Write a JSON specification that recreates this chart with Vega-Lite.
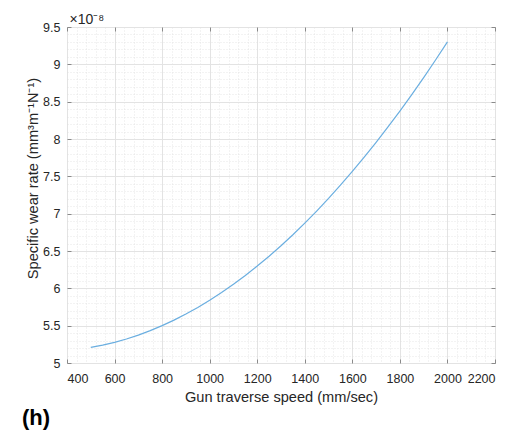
{
  "$schema": "https://vega.github.io/schema/vega-lite/v6.json",
  "width": 428,
  "height": 336,
  "autosize": "none",
  "padding": {"left": 67, "top": 27, "right": 20, "bottom": 70},
  "background": "white",
  "title": {"text": "(h)", "orient": "bottom", "anchor": "start", "dx": -3, "offset": 4, "fontSize": 22, "fontWeight": "bold", "font": "Liberation Sans", "color": "#000000"},
  "config": {
    "view": {"stroke": "#8a8a8a", "strokeWidth": 1},
    "axis": {"labelFont": "Liberation Sans", "titleFont": "Liberation Sans", "labelColor": "#262626", "titleColor": "#262626", "titleFontWeight": "normal"}
  },
  "data": {"values": [
    {"speed": 500, "wear": 5.210},
    {"speed": 550, "wear": 5.240},
    {"speed": 600, "wear": 5.277},
    {"speed": 650, "wear": 5.322},
    {"speed": 700, "wear": 5.374},
    {"speed": 750, "wear": 5.433},
    {"speed": 800, "wear": 5.500},
    {"speed": 850, "wear": 5.574},
    {"speed": 900, "wear": 5.655},
    {"speed": 950, "wear": 5.744},
    {"speed": 1000, "wear": 5.840},
    {"speed": 1050, "wear": 5.944},
    {"speed": 1100, "wear": 6.054},
    {"speed": 1150, "wear": 6.172},
    {"speed": 1200, "wear": 6.298},
    {"speed": 1250, "wear": 6.430},
    {"speed": 1300, "wear": 6.570},
    {"speed": 1350, "wear": 6.718},
    {"speed": 1400, "wear": 6.873},
    {"speed": 1450, "wear": 7.035},
    {"speed": 1500, "wear": 7.204},
    {"speed": 1550, "wear": 7.381},
    {"speed": 1600, "wear": 7.565},
    {"speed": 1650, "wear": 7.756},
    {"speed": 1700, "wear": 7.955},
    {"speed": 1750, "wear": 8.161},
    {"speed": 1800, "wear": 8.374},
    {"speed": 1850, "wear": 8.595},
    {"speed": 1900, "wear": 8.823},
    {"speed": 1950, "wear": 9.058},
    {"speed": 2000, "wear": 9.301}
  ]},
  "resolve": {"axis": {"x": "independent", "y": "independent"}},
  "layer": [
    {
      "mark": {"type": "line", "strokeOpacity": 0},
      "encoding": {
        "x": {"field": "speed", "type": "quantitative", "scale": {"domain": [400, 2200], "nice": false},
          "axis": {"orient": "bottom", "values": [440,480,520,560,640,680,720,760,840,880,920,960,1040,1080,1120,1160,1240,1280,1320,1360,1440,1480,1520,1560,1640,1680,1720,1760,1840,1880,1920,1960,2040,2080,2120,2160], "grid": true, "gridColor": "#dedede", "gridDash": [1, 2], "gridWidth": 0.7, "labels": false, "ticks": false, "domain": false, "title": null}},
        "y": {"field": "wear", "type": "quantitative", "scale": {"domain": [5, 9.5], "nice": false, "zero": false},
          "axis": {"orient": "left", "values": [5.1,5.2,5.3,5.4,5.6,5.7,5.8,5.9,6.1,6.2,6.3,6.4,6.6,6.7,6.8,6.9,7.1,7.2,7.3,7.4,7.6,7.7,7.8,7.9,8.1,8.2,8.3,8.4,8.6,8.7,8.8,8.9,9.1,9.2,9.3,9.4], "grid": true, "gridColor": "#dedede", "gridDash": [1, 2], "gridWidth": 0.7, "labels": false, "ticks": false, "domain": false, "title": null}}
      }
    },
    {
      "mark": {"type": "line", "strokeOpacity": 0},
      "encoding": {
        "x": {"field": "speed", "type": "quantitative", "scale": {"domain": [400, 2200], "nice": false},
          "axis": {"orient": "top", "values": [400,600,800,1000,1200,1400,1600,1800,2000,2200], "grid": false, "labels": false, "ticks": true, "tickSize": -4, "tickColor": "#8a8a8a", "domain": false,
            "title": "×10⁻⁸", "titleAnchor": "start", "titleAlign": "left", "titleX": 2, "titleY": -4, "titleBaseline": "alphabetic", "titleFontSize": 14, "titlePadding": 0}},
        "y": {"field": "wear", "type": "quantitative", "scale": {"domain": [5, 9.5], "nice": false, "zero": false},
          "axis": {"orient": "right", "values": [5,5.5,6,6.5,7,7.5,8,8.5,9,9.5], "grid": false, "labels": false, "ticks": true, "tickSize": -4, "tickColor": "#8a8a8a", "domain": false, "title": null}}
      }
    },
    {
      "mark": {"type": "line", "color": "#6aaee0", "strokeWidth": 1.2},
      "encoding": {
        "x": {"field": "speed", "type": "quantitative", "scale": {"domain": [400, 2200], "nice": false},
          "axis": {"orient": "bottom", "values": [400,600,800,1000,1200,1400,1600,1800,2000,2200], "format": "d", "grid": true, "gridColor": "#e3e3e3", "gridWidth": 1, "ticks": true, "tickSize": -4, "tickColor": "#8a8a8a", "domain": false, "labelFontSize": 12.5, "labelPadding": 13, "title": "Gun traverse speed (mm/sec)", "titleFontSize": 14.6, "titlePadding": 5}},
        "y": {"field": "wear", "type": "quantitative", "scale": {"domain": [5, 9.5], "nice": false, "zero": false},
          "axis": {"orient": "left", "values": [5,5.5,6,6.5,7,7.5,8,8.5,9,9.5], "format": ".1~f", "grid": true, "gridColor": "#e3e3e3", "gridWidth": 1, "ticks": true, "tickSize": -4, "tickColor": "#8a8a8a", "domain": false, "labelFontSize": 12.5, "labelPadding": 11, "title": "Specific wear rate (mm³m⁻¹N⁻¹)", "titleFontSize": 14.6, "titleX": -30, "titleY": 151, "titleBaseline": "alphabetic"}}
      }
    }
  ]
}
